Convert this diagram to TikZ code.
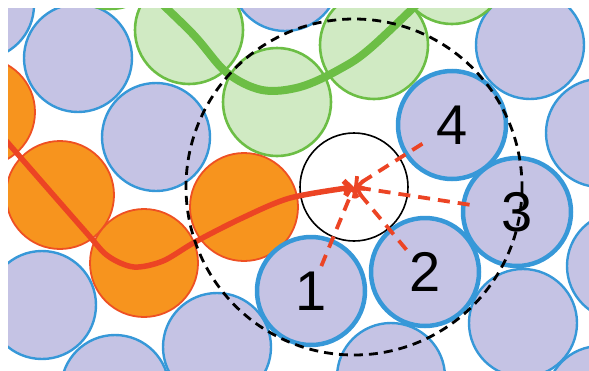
\documentclass[tikz,border=0pt]{standalone}
\usepackage{fontspec}
\setsansfont{Liberation Sans}
\usetikzlibrary{arrows.meta}
\definecolor{beadfill}{RGB}{197, 195, 228}
\definecolor{beadblue}{RGB}{55, 152, 216}
\definecolor{chaingreen}{RGB}{108, 190, 69}
\definecolor{chainorange}{RGB}{247, 148, 30}
\definecolor{chainred}{RGB}{236, 68, 36}

\begin{document}
\begin{tikzpicture}[x=1pt, y=-1pt,
    disc/.style={circle, minimum size=108pt, inner sep=0pt},
    bead/.style={disc, draw=beadblue, fill=beadfill, line width=2.4pt},
    probe/.style={bead, line width=4.5pt, font=\sffamily\fontsize{56}{60}\selectfont},
    gbead/.style={disc, draw=chaingreen, fill=chaingreen, fill opacity=0.32, line width=2.6pt},
    obead/.style={disc, draw=chainred!85!chainorange, fill=chainorange, line width=1.8pt},
    hop/.style={draw=chainred, line width=3.8pt, dash pattern=on 12pt off 8pt,
      -{Straight Barb[length=6pt, width=15pt]}},
    arr/.style={-{Straight Barb[length=6pt, width=15pt]}}
  ]
    \useasboundingbox (0,0) rectangle (589,370);
    \clip (8,8) rectangle (589,370);
    \node[bead] (p1) at (-20,5) {};
    \node[bead] (p2) at (78,58) {};
    \node[bead] (p3) at (156,137) {};
    \node[bead] (p4) at (285,-23) {};
    \node[bead] (p5) at (530,45) {};
    \node[bead] (p6) at (600,133) {};
    \node[bead] (p7) at (621,266) {};
    \node[bead] (p8) at (523,323) {};
    \node[bead] (p9) at (391,377) {};
    \node[bead] (p10) at (600,400) {};
    \node[bead] (p11) at (217,347) {};
    \node[bead] (p12) at (115,389) {};
    \node[bead] (p13) at (42,305) {};
    \node[gbead] (g0) at (110,-45) {};
    \node[gbead] (g1) at (189,30) {};
    \node[gbead] (g2) at (277,102) {};
    \node[gbead] (g3) at (374,45) {};
    \node[gbead] (g4) at (452,-30) {};
    \node[obead] (o1) at (-19,112) {};
    \node[obead] (o2) at (60,195) {};
    \node[obead] (o3) at (144,263) {};
    \node[obead] (o4) at (244,207) {};
    \node[disc, draw=black, fill=white, line width=1.6pt] (w) at (354,187) {};
    \node[probe] (n1) at (311,291) {1};
    \node[probe] (n2) at (425,272) {2};
    \node[probe] (n3) at (517,212) {3};
    \node[probe] (n4) at (452,125) {4};
    \draw[chaingreen, line width=8pt, line cap=round]
      plot[smooth, tension=0.55] coordinates {(g0.center) (g1.center) (226,72)
        (262,90) (300,87) (340,69) (g3.center) (g4.center)};
    \draw[arr, chainred, line width=5.5pt]
      plot[smooth, tension=0.5] coordinates {(o1.center) (84,230) (108,256)
        (134,267) (163,261) (195,242) (240,219) (290,198) (w.center)};
    \draw[hop, shorten <=27pt] (n1.center) -- (w.center);
    \draw[hop, shorten <=29pt] (n2.center) -- (w.center);
    \draw[hop, shorten <=48pt] (n3.center) -- (w.center);
    \draw[hop, shorten <=35pt] (n4.center) -- (w.center);
    \draw[black, line width=2.8pt, dash pattern=on 9pt off 6pt]
      (w.center) circle[radius=168];
  \end{tikzpicture}
\end{document}
